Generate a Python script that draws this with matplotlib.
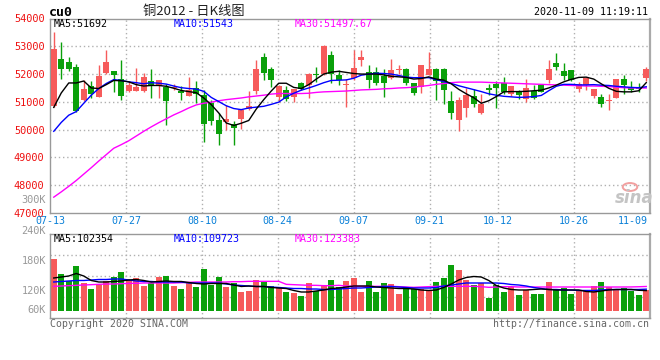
import matplotlib
matplotlib.use('Agg')
import matplotlib.pyplot as plt
import matplotlib.transforms as mtransforms
import numpy as np

# ---------------- data ----------------
opens = [50860, 52550, 52420, 52270, 51060, 51560, 51170, 52030, 52095, 51830,
         51390, 51390, 51390, 51760, 51565, 51530, 51500, 51380, 51210, 51500,
         51240, 50970, 50340, 50280, 50190, 50370, 50730, 51390, 52630, 52165,
         51172, 51437, 51172, 51674, 51592, 51990, 51986, 52692, 51950, 51600,
         51870, 52490, 52070, 52090, 51920, 51850, 52155, 52200, 51670, 51520,
         51980, 52200, 52200, 51020, 50340, 50790, 51200, 50610, 51500, 51650,
         51690, 51300, 51380, 51100, 51380, 51590, 51770, 52400, 52100, 52130,
         51480, 51620, 51210, 51170, 51030, 51140, 51810, 51500, 51530, 51860]
highs = [53500, 53150, 52620, 52370, 51770, 51740, 52330, 52850, 52110, 52510,
         51750, 52220, 52030, 52190, 51800, 51650, 51640, 51560, 51900, 51740,
         51420, 51050, 50590, 50880, 50300, 50760, 51380, 52510, 52750, 52250,
         51600, 51556, 51470, 51720, 52030, 52250, 53060, 52846, 52154, 51832,
         52850, 52850, 52310, 52250, 52190, 52560, 52310, 52210, 51680, 52310,
         52790, 52210, 52210, 51380, 51170, 51500, 51480, 51300, 51650, 51740,
         51900, 51560, 51440, 51810, 51600, 51600, 52490, 52770, 52400, 52140,
         51720, 51900, 51480, 51300, 51300, 51810, 51950, 51740, 51690, 52250]
lows = [50820, 51830, 52100, 50630, 51040, 51150, 51160, 52000, 51360, 51060,
        51370, 51380, 51350, 51150, 51150, 50180, 51440, 51060, 51200, 50970,
        49560, 50150, 49450, 50000, 49450, 50040, 50700, 51300, 51770, 51530,
        51000, 51020, 51000, 51420, 51150, 51710, 51960, 51685, 51592, 50814,
        51770, 52280, 51500, 51590, 51180, 51840, 52010, 51590, 51260, 51320,
        51960, 51050, 50920, 50400, 49950, 50460, 50820, 50560, 51240, 50790,
        51300, 51200, 51100, 51000, 51100, 51340, 51690, 52130, 51800, 51750,
        51360, 51420, 51140, 50820, 50700, 51130, 51300, 51360, 51360, 51740]
closes = [52890, 52175, 52175, 50670, 51455, 51300, 51915, 52420, 51950, 51210,
          51617, 51530, 51880, 51617, 51800, 51020, 51540, 51320, 51420, 51300,
          50210, 50300, 49840, 50400, 50070, 50720, 50840, 52165, 52030, 51796,
          51556, 51114, 51450, 51470, 51986, 51960, 53000, 52011, 51771, 51650,
          52230, 52600, 51800, 51690, 51670, 52140, 52180, 51670, 51310, 52310,
          52170, 51740, 51420, 50600, 51050, 51240, 50920, 50940, 51440, 51500,
          51360, 51560, 51240, 51500, 51145, 51360, 52170, 52250, 51920, 51800,
          51650, 51860, 51480, 50920, 51050, 51810, 51620, 51420, 51450, 52190]

ma5 = [50800, 51320, 51680, 51680, 51750, 51500, 51480, 51620, 51770, 51760,
       51720, 51620, 51570, 51590, 51590, 51560, 51490, 51410, 51370, 51330,
       51140, 50900, 50600, 50240, 50150, 50230, 50330, 50740, 51080, 51390,
       51670, 51670, 51520, 51480, 51620, 51820, 52000, 52070, 52100, 52060,
       52020, 52000, 52000, 52000, 51970, 51920, 51900, 51880, 51820, 51840,
       51900, 51820, 51780, 51650, 51450, 51290, 51150, 50950, 51040, 51190,
       51360, 51370, 51370, 51380, 51400, 51420, 51500, 51600, 51720, 51810,
       51880, 51890, 51820, 51650, 51490, 51380, 51360, 51360, 51400, 51692]
ma10 = [49940, 50260, 50520, 50650, 50950, 51240, 51480, 51660, 51800, 51770,
        51720, 51690, 51650, 51690, 51670, 51640, 51570, 51510, 51480, 51460,
        51380, 51160, 51010, 50860, 50760, 50720, 50780, 50810, 50840, 50910,
        50990, 51180, 51310, 51420, 51500, 51590, 51690, 51770, 51780, 51790,
        51850, 51960, 52000, 52030, 52020, 52000, 51950, 51890, 51870, 51870,
        51870, 51800, 51730, 51660, 51580, 51510, 51440, 51370, 51290, 51240,
        51200, 51180, 51160, 51170, 51190, 51230, 51400, 51560, 51630, 51630,
        51610, 51610, 51620, 51600, 51590, 51560, 51540, 51520, 51510, 51543]
ma30 = [47570, 47760, 47960, 48170, 48400, 48630, 48870, 49100, 49330, 49460,
        49600, 49770, 49940, 50100, 50250, 50390, 50530, 50650, 50780, 50890,
        50950, 50990, 51040, 51080, 51110, 51140, 51180, 51210, 51240, 51280,
        51300, 51300, 51300, 51300, 51310, 51340, 51360, 51370, 51380, 51390,
        51410, 51430, 51440, 51450, 51470, 51480, 51500, 51510, 51530, 51560,
        51590, 51630, 51660, 51690, 51710, 51710, 51710, 51710, 51700, 51690,
        51680, 51670, 51660, 51650, 51640, 51630, 51620, 51610, 51600, 51590,
        51580, 51570, 51570, 51560, 51550, 51530, 51510, 51500, 51500, 51498]

volumes = [265200, 188700, 149600, 229500, 141100, 110500, 132600, 149600, 171700, 198900,
           158100, 166600, 127500, 141100, 171700, 178500, 127500, 110500, 141100, 119000,
           214200, 129200, 171700, 120700, 141100, 95200, 102000, 158100, 153000, 127500,
           115600, 93500, 91800, 76500, 141100, 102000, 129200, 158100, 119000, 153000,
           166600, 95200, 153000, 95200, 141100, 136000, 85000, 110500, 110500, 110500,
           102000, 146200, 166600, 234600, 207400, 158100, 129200, 141100, 64600, 132600,
           95200, 119000, 81600, 107100, 85000, 85000, 146200, 107100, 115600, 85000,
           107100, 98600, 124100, 146200, 119000, 107100, 115600, 102000, 81600, 107100]
vol_ma5 = [166600, 171700, 176800, 189600, 176800, 153900, 146200, 146200, 148800, 151300,
           156400, 159000, 153900, 146200, 148800, 151300, 148800, 148800, 143700, 138600,
           136000, 138600, 138600, 138600, 130900, 123300, 125800, 123300, 123300, 118200,
           115600, 113000, 102900, 95200, 95200, 100300, 105400, 113000, 115600, 120700,
           125800, 125800, 125800, 120700, 118200, 115600, 113000, 113000, 110500, 105400,
           102900, 105400, 118200, 136000, 156400, 169200, 174300, 171700, 153900, 128400,
           115600, 108000, 105400, 105400, 108000, 110500, 108000, 105400, 105400, 105400,
           105400, 97800, 95200, 100300, 105400, 108000, 108000, 108000, 104000, 102354]
vol_ma10 = [146200, 148800, 151300, 153900, 153900, 156400, 159000, 159000, 161500, 161500,
            156400, 151300, 148800, 148800, 146200, 146200, 146200, 146200, 141100, 141100,
            141100, 141100, 141100, 136000, 130900, 128400, 125800, 123300, 123300, 120700,
            118200, 115600, 113000, 113000, 110500, 110500, 108000, 108000, 110500, 113000,
            115600, 115600, 118200, 120700, 123300, 123300, 120700, 118200, 115600, 115600,
            115600, 118200, 125800, 130900, 136000, 141100, 141100, 141100, 141100, 141100,
            138600, 133500, 130900, 125800, 118200, 113000, 108000, 108000, 105400, 105400,
            102900, 102900, 102900, 105400, 108000, 108000, 108000, 108000, 108000, 109723]
vol_ma30 = [124100, 125800, 127500, 129200, 130900, 132600, 134300, 136000, 136000, 137700,
            139400, 139400, 141100, 141100, 141100, 141100, 141100, 142800, 144500, 146200,
            146200, 146200, 146200, 146200, 147900, 147900, 149600, 149600, 149600, 149600,
            149600, 134300, 132600, 130900, 129200, 129200, 127500, 127500, 129200, 125800,
            124100, 124100, 124100, 124100, 124100, 124100, 122400, 120700, 119000, 120700,
            122400, 124100, 124100, 124100, 124100, 124100, 124100, 122400, 119000, 120700,
            122400, 122400, 120700, 120700, 120700, 120700, 120700, 120700, 120700, 120700,
            120700, 120700, 120700, 120700, 120700, 120700, 120700, 121000, 122000, 123383]

date_labels = ['07-13', '07-27', '08-10', '08-24', '09-07', '09-21', '10-12', '10-26', '11-09']
date_index = [0, 10, 20, 30, 40, 50, 59, 69, 79]
price_ticks = [47000, 48000, 49000, 50000, 51000, 52000, 53000, 54000]
vol_labels = ['300K', '240K', '180K', '120K', '60K']

title_text = '铜2012 - 日K线图'
symbol_text = 'cu0'
time_text = '2020-11-09 11:19:11'
ma_head = ['MA5:51692', 'MA10:51543', 'MA30:51497.67']
vol_head = ['MA5:102354', 'MA10:109723', 'MA30:123383']

# ---------------- style ----------------
W, H = 660, 360
RED = '#f65b5b'
GREEN = '#0aa00a'
RED_TXT = '#ee1111'
BLUE_TXT = '#0a80d8'
GRAY_TXT = '#999999'
GRID = '#b0b0b0'
MONO = 'DejaVu Sans Mono'

fig = plt.figure(figsize=(W / 100, H / 100), dpi=100)
fig.patch.set_facecolor('white')

def fx(px):
    return px / W

def fy(py):
    return 1 - py / H

ax = fig.add_axes([fx(50), fy(213), fx(650) - fx(50), fy(18.5) - fy(213)])
vax = fig.add_axes([fx(50), fy(318), fx(650) - fx(50), fy(234) - fy(318)])

n = len(opens)
xs = np.arange(n)
o = np.array(opens, float)
c = np.array(closes, float)
hi = np.array(highs, float)
lo = np.array(lows, float)
up = c >= o
cols = np.where(up, RED, GREEN)

# grid positions (Sina spaces the date grid over n-1 steps)
grid_pos = [d * n / (n - 1) - 0.5 for d in date_index]

for a in (ax, vax):
    a.set_xlim(-0.5, n - 0.5)
    for s in a.spines.values():
        s.set_color('#999999')
        s.set_linewidth(1)
    a.spines['right'].set_linewidth(1.6)
    a.spines['right'].set_color('#aaaaaa')
    for gp in grid_pos[1:-1]:
        a.axvline(gp, color=GRID, lw=1, ls=(0, (1, 2)), zorder=0)
    a.set_xticks([])

# ---- price panel ----
ax.set_ylim(price_ticks[0], price_ticks[-1])
for p in price_ticks[1:-1]:
    ax.axhline(p, color=GRID, lw=1, ls=(0, (1, 2)), zorder=0)
ax.vlines(xs, lo, hi, colors=cols, lw=1, zorder=2)
body_b = np.minimum(o, c)
body_h = np.maximum(np.abs(c - o), 30)
ax.bar(xs, body_h, bottom=body_b, width=0.8, color=cols, linewidth=0, zorder=3)
ax.plot(xs, ma30, color='#ff00ff', lw=1, zorder=4)
ax.plot(xs, ma10, color='#0000ff', lw=1, zorder=4)
ax.plot(xs, ma5, color='black', lw=1, zorder=4)

ax.set_yticks(price_ticks)
ax.set_yticklabels([str(p) for p in price_ticks], family=MONO, fontsize=7.4, color=RED_TXT)
ax.tick_params(axis='y', length=0, pad=4)

# date labels
tr = mtransforms.blended_transform_factory(ax.transData, ax.transAxes)
for i, (lab, gp) in enumerate(zip(date_labels, grid_pos)):
    if i == len(date_labels) - 1:
        ax.text(gp - 0.25, -0.041, lab, transform=tr, ha='right', va='center',
                family=MONO, fontsize=7.2, color=BLUE_TXT)
    else:
        ax.text(gp, -0.041, lab, transform=tr, ha='center', va='center',
                family=MONO, fontsize=7.2, color=BLUE_TXT)

# ---- volume panel ----
vax.set_ylim(-37400, 391000)
vax.set_yticks([])
for f in (0.25, 0.5, 0.75):
    vax.axhline(vax.get_ylim()[0] + f * (vax.get_ylim()[1] - vax.get_ylim()[0]),
                color=GRID, lw=1, ls=(0, (1, 2)), zorder=0)
vax.bar(xs, volumes, width=0.8, color=cols, linewidth=0, zorder=2)
vax.plot(xs, vol_ma30, color='#ff00ff', lw=1, zorder=3)
vax.plot(xs, vol_ma10, color='#0000ff', lw=1, zorder=3)
vax.plot(xs, vol_ma5, color='black', lw=1, zorder=3)

# volume scale labels (placed as Sina does: fixed slots left of the panel)
vol_label_y = [200, 231, 261, 291, 310]
for lab, py in zip(vol_labels, vol_label_y):
    fig.text(fx(46), fy(py), lab, ha='right', va='center', family=MONO,
             fontsize=7.4, color=GRAY_TXT)

# ---- header texts ----
fig.text(fx(49), fy(12), symbol_text, ha='left', va='center', family=MONO,
         fontsize=9.5, fontweight='bold', color='black')
fig.text(fx(194), fy(12), title_text, ha='center', va='center',
         family=['Noto Sans CJK SC', 'DejaVu Sans'], fontsize=9.5, color='#222222')
fig.text(fx(648), fy(12), time_text, ha='right', va='center', family=MONO,
         fontsize=7.2, color='black')

head_cols = ['black', '#0000ff', '#ff00ff']
head_x = [54, 174, 295]
for t, col, px in zip(ma_head, head_cols, head_x):
    fig.text(fx(px), fy(24), t, ha='left', va='center', family=MONO,
             fontsize=7.2, color=col, zorder=10)
for t, col, px in zip(vol_head, head_cols, head_x):
    fig.text(fx(px), fy(238.5), t, ha='left', va='center', family=MONO,
             fontsize=7.2, color=col, zorder=10)

fig.text(fx(50), fy(324), 'Copyright 2020 SINA.COM', ha='left', va='center',
         family=MONO, fontsize=7.1, color='#666666')
fig.text(fx(649), fy(324), 'http://finance.sina.com.cn', ha='right', va='center',
         family=MONO, fontsize=7.1, color='#666666')

# sina watermark
fig.text(fx(634), fy(198), 'sina', ha='center', va='center', fontsize=12,
         style='italic', fontweight='bold', color='#c4c4c4', family='DejaVu Sans')
fig.patches.append(plt.Circle((fx(630), fy(187)), 0.011, transform=fig.transFigure,
                              fill=False, ec='#f2a0a0', lw=1.4))

fig.savefig('out.png', dpi=100, facecolor='white')
